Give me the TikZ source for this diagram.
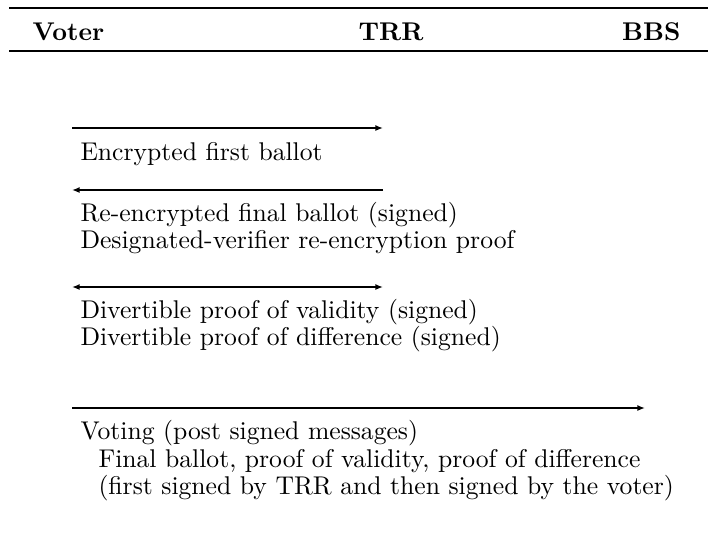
\documentclass[tikz,border=0pt]{standalone}
\usetikzlibrary{arrows.meta}
\begin{document}
\begin{tikzpicture}[x=0.39pt,y=-0.39pt,
  lbl/.style={anchor=base west, inner sep=0pt},
  hdr/.style={inner sep=0pt, font=\bfseries},
  msg/.style={line width=0.75pt},
  tip/.style={-{Latex[length=3pt,width=2.4pt]}},
  rulestyle/.style={line width=0.9pt}]
\useasboundingbox (0,0) rectangle (708,559);
% rules
\coordinate (rl1) at (9,8);  \coordinate (rr1) at (708,8);
\coordinate (rl2) at (9,51); \coordinate (rr2) at (708,51);
\draw[rulestyle] (rl1) -- (rr1);
\draw[rulestyle] (rl2) -- (rr2);
% headers
\node[hdr,anchor=base west] (voter) at (32,40) {Voter};
\node[hdr,anchor=base] (trr) at (391,40) {TRR};
\node[hdr,anchor=base east] (bbs) at (681,40) {BBS};
% message 1
\coordinate (v1) at (72,128); \coordinate (t1) at (383,128);
\draw[msg,tip] (v1) -- (t1);
\node[lbl] (m1) at (80,160) {Encrypted first ballot};
% message 2
\coordinate (v2) at (72,190); \coordinate (t2) at (383,190);
\draw[msg,tip] (t2) -- (v2);
\node[lbl] (m2a) at (80,221) {Re-encrypted final ballot (signed)};
\node[lbl] (m2b) at (80,248) {Designated-verifier re-encryption proof};
% message 3
\coordinate (v3) at (72,287); \coordinate (t3) at (383,287);
\draw[msg,{Latex[length=3pt,width=2.4pt]}-{Latex[length=3pt,width=2.4pt]}] (v3) -- (t3);
\node[lbl] (m3a) at (80,318) {Divertible proof of validity (signed)};
\node[lbl] (m3b) at (80,345) {Divertible proof of difference (signed)};
% message 4
\coordinate (v4) at (72,408); \coordinate (b4) at (645,408);
\draw[msg,tip] (v4) -- (b4);
\node[lbl] (m4a) at (80,439) {Voting (post signed messages)};
\node[lbl] (m4b) at (98,467) {Final ballot, proof of validity, proof of difference};
\node[lbl] (m4c) at (98,494) {(first signed by TRR and then signed by the voter)};
\end{tikzpicture}
\end{document}
